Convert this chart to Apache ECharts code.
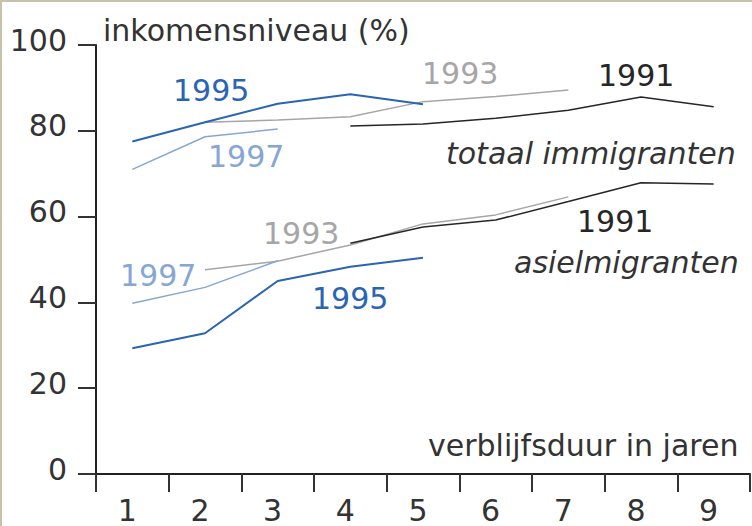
<!DOCTYPE html>
<html>
<head>
<meta charset="utf-8">
<script src="https://cdn.jsdelivr.net/npm/echarts@6/dist/echarts.min.js"></script>
<style>
html, body { margin: 0; padding: 0; background: #fff; }
#chart { width: 752px; height: 526px; box-sizing: border-box; border-left: 2px solid #c6c2ae; border-top: 2px solid #c6c2ae; }
</style>
</head>
<body>
<div id="chart"></div>
<script>
// verblijfsduur in jaren
var jaren = ['1', '2', '3', '4', '5', '6', '7', '8', '9'];
var yTicks = [0, 20, 40, 60, 80, 100];

// totaal immigranten
var totaal1995 = [77.5, 82, 86.3, 88.5, 86.2, null, null, null, null];
var totaal1997 = [71, 78.6, 80.4, null, null, null, null, null, null];
var totaal1993 = [null, 82, 82.5, 83.3, 86.8, 88, 89.5, null, null];
var totaal1991 = [null, null, null, 81.1, 81.6, 82.9, 84.8, 87.9, 85.6];

// asielmigranten
var asiel1995 = [29.3, 32.8, 45, 48.3, 50.4, null, null, null, null];
var asiel1997 = [39.8, 43.5, 49.7, null, null, null, null, null, null];
var asiel1993 = [null, 47.6, 49.6, 53.4, 58.3, 60.4, 64.6, null, null];
var asiel1991 = [null, null, null, 53.8, 57.6, 59.2, 63.5, 67.9, 67.6];

var kleur = {
    '1995': '#2a64b4',
    '1997': '#86a6d4',
    '1993': '#a6a6a6',
    '1991': '#262626'
};
var tekst = '#333';
var font = '"DejaVu Sans"';

function lijn(name, data, kl, w) {
    return {
        name: name,
        type: 'line',
        data: data,
        showSymbol: false,
        connectNulls: false,
        silent: true,
        lineStyle: { color: kl, width: w },
        itemStyle: { color: kl }
    };
}

// x = linkerkant, y = midden van de tekst
function label(txt, x, y, kl, italic) {
    return {
        type: 'text',
        x: x,
        y: y,
        silent: true,
        style: {
            text: txt,
            fill: kl,
            align: 'left',
            verticalAlign: 'middle',
            font: (italic ? 'italic ' : '') + '30px ' + font
        }
    };
}

var chart = echarts.init(document.getElementById('chart'), null, { renderer: 'svg' });
var options = {
    animation: false,
    grid: {
        top: 43,
        left: 94,
        right: 2,
        bottom: 52,
        containLabel: false
    },
    xAxis: {
        type: 'category',
        data: jaren,
        boundaryGap: true,
        axisLine: { lineStyle: { color: '#222', width: 2 } },
        axisTick: { show: true, length: 18, lineStyle: { color: '#333', width: 2 } },
        axisLabel: { color: tekst, fontSize: 30, fontFamily: font, margin: 21, padding: [0, 10, 0, 0] },
        splitLine: { show: false }
    },
    yAxis: {
        type: 'value',
        min: yTicks[0],
        max: yTicks[yTicks.length - 1],
        interval: 20,
        axisLine: { show: true, lineStyle: { color: '#222', width: 2 } },
        axisTick: { show: true, length: 18, lineStyle: { color: '#333', width: 2 } },
        axisLabel: { color: tekst, fontSize: 30, fontFamily: font, margin: 29, verticalAlign: 'bottom', lineHeight: 10 },
        splitLine: { show: false }
    },
    graphic: [
        label('inkomensniveau (%)', 101, 28, tekst),
        label('verblijfsduur in jaren', 426, 443, tekst),
        label('1995', 171, 88, kleur['1995']),
        label('1997', 206, 154, kleur['1997']),
        label('1993', 420, 71, kleur['1993']),
        label('1991', 596, 73, kleur['1991']),
        label('totaal immigranten', 444, 151, tekst, true),
        label('1993', 261, 231, kleur['1993']),
        label('1997', 118, 273, kleur['1997']),
        label('1995', 310, 296, kleur['1995']),
        label('1991', 575, 219, kleur['1991']),
        label('asielmigranten', 512, 260, tekst, true)
    ],
    series: [
        lijn('totaal 1993', totaal1993, kleur['1993'], 1.5),
        lijn('totaal 1991', totaal1991, kleur['1991'], 1.5),
        lijn('totaal 1997', totaal1997, kleur['1997'], 1.5),
        lijn('totaal 1995', totaal1995, kleur['1995'], 2),
        lijn('asiel 1993', asiel1993, kleur['1993'], 1.5),
        lijn('asiel 1991', asiel1991, kleur['1991'], 1.5),
        lijn('asiel 1997', asiel1997, kleur['1997'], 1.5),
        lijn('asiel 1995', asiel1995, kleur['1995'], 2)
    ]
};
chart.setOption(options);

window.onresize = function () {
    chart.resize();
};
</script>
</body>
</html>
